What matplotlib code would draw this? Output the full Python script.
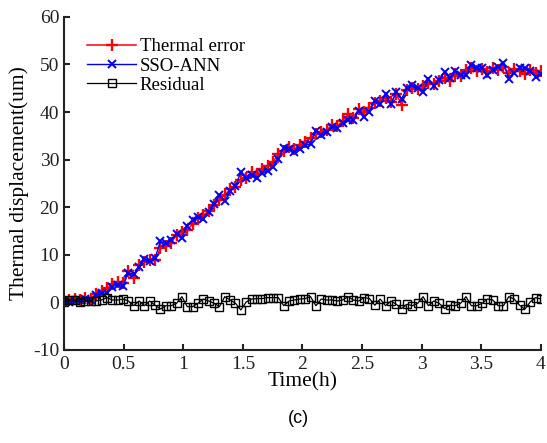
import numpy as np
import matplotlib.pyplot as plt

plt.rcParams['font.family'] = ['Liberation Serif', 'DejaVu Serif']
plt.rcParams['mathtext.fontset'] = 'stix'

# time axis: 90 samples over 4 h
time_h = np.linspace(0, 4, 90)

thermal_error = [0.3, 0.5, 0.8, 0.6, 1.0, 0.8, 1.8, 2.4, 3.0, 3.8,
                 4.2, 4.1, 6.5, 5.2, 7.8, 8.5, 9.0, 8.8, 11.4, 11.8,
                 12.5, 14.2, 14.8, 15.2, 16.5, 17.8, 18.3, 19.2, 20.5, 21.6,
                 22.5, 23.8, 24.2, 25.8, 26.2, 27.4, 27.0, 28.0, 28.6, 29.5,
                 31.2, 31.8, 32.6, 32.2, 33.0, 33.8, 34.5, 35.4, 35.8, 36.2,
                 37.3, 37.0, 38.2, 39.5, 38.8, 40.6, 40.0, 40.9, 41.8, 42.3,
                 43.0, 42.0, 43.8, 41.5, 44.6, 45.0, 44.8, 45.5, 46.2, 45.8,
                 46.6, 47.2, 46.5, 48.0, 47.6, 48.9, 49.2, 48.6, 49.0, 48.4,
                 49.3, 48.8, 49.5, 48.2, 49.0, 48.6, 47.9, 48.8, 48.3, 48.6]

sso_ann = [0.2, 0.0, 0.3, 0.5, 0.7, 0.5, 1.5, 1.9, 2.0, 3.3,
           3.7, 3.4, 6.2, 5.9, 7.5, 9.2, 8.7, 9.4, 12.8, 12.5,
           13.2, 14.4, 13.6, 16.1, 17.4, 18.0, 17.6, 18.9, 20.7, 22.5,
           21.3, 23.3, 24.4, 27.4, 26.1, 26.7, 26.2, 27.2, 27.6, 28.5,
           30.2, 32.5, 32.3, 31.7, 32.3, 33.0, 33.3, 36.1, 35.1, 35.7,
           36.8, 36.7, 37.7, 38.3, 38.3, 40.3, 39.0, 40.1, 42.4, 41.6,
           43.7, 41.7, 44.2, 42.8, 45.0, 45.7, 45.0, 44.3, 46.9, 45.5,
           46.8, 48.5, 47.1, 48.7, 47.8, 47.7, 49.9, 49.3, 49.2, 47.7,
           48.8, 49.5, 50.2, 47.0, 48.3, 49.2, 49.3, 48.7, 47.3, 47.9]

residual = [0.1, 0.5, 0.5, 0.1, 0.3, 0.3, 0.3, 0.5, 1.0, 0.5,
            0.5, 0.7, 0.3, -0.7, 0.3, -0.7, 0.3, -0.6, -1.4, -0.7,
            -0.7, -0.2, 1.2, -0.9, -0.9, -0.2, 0.7, 0.3, -0.2, -0.9,
            1.2, 0.5, -0.2, -1.6, 0.1, 0.7, 0.8, 0.8, 1.0, 1.0,
            1.0, -0.7, 0.3, 0.5, 0.7, 0.8, 1.2, -0.7, 0.7, 0.5,
            0.5, 0.3, 0.5, 1.2, 0.5, 0.3, 1.0, 0.8, -0.6, 0.7,
            -0.7, 0.3, -0.4, -1.3, -0.4, -0.7, -0.2, 1.2, -0.7, 0.3,
            -0.2, -1.3, -0.6, -0.7, -0.2, 1.2, -0.7, -0.7, -0.2, 0.7,
            0.5, -0.7, -0.7, 1.2, 0.7, -0.6, -1.4, 0.1, 1.0, 0.7]

fig = plt.figure(figsize=(5.47, 4.43), dpi=100)
ax = fig.add_axes([0.117, 0.21, 0.872, 0.752])

ax.plot(time_h, thermal_error, color='red', marker='+', markersize=9,
        markeredgewidth=1.7, linewidth=1.1, label='Thermal error')
ax.plot(time_h, sso_ann, color='blue', marker='x', markersize=6,
        markeredgewidth=1.4, linewidth=1.0, label='SSO-ANN')
ax.plot(time_h, residual, color='black', marker='s', markersize=5.5,
        markerfacecolor='none', markeredgewidth=1.0, linewidth=0.9,
        label='Residual')

ax.set_xlim(0, 4)
ax.set_ylim(-10, 60)
ax.set_xticks(np.arange(0, 4.01, 0.5))
ax.set_xticklabels(['0', '0.5', '1', '1.5', '2', '2.5', '3', '3.5', '4'])
ax.set_yticks(np.arange(-10, 61, 10))
ax.set_yticklabels(['-10', '0', '10', '20', '30', '40', '50', '60'])

for side in ['top', 'right']:
    ax.spines[side].set_visible(False)
for side in ['left', 'bottom']:
    ax.spines[side].set_linewidth(1.5)
    ax.spines[side].set_color('#222222')
ax.tick_params(direction='in', length=4, width=1.5, labelsize=14, colors='#222222')
ax.tick_params(axis='x', pad=4)

ax.set_xlabel('Time(h)', fontsize=15.5, labelpad=0)
ax.set_ylabel('Thermal displacement(um)', fontsize=15.5, labelpad=3)

ax.legend(loc='upper left', bbox_to_anchor=(0.025, 0.97), frameon=False,
          fontsize=13.5, handlelength=2.6, handletextpad=0.2, labelspacing=0.12,
          borderaxespad=0.2)

fig.text(0.545, 0.056, '(c)', fontsize=13, ha='center', va='center',
         family=['Liberation Sans', 'DejaVu Sans'])

fig.savefig('out.png', dpi=100)
